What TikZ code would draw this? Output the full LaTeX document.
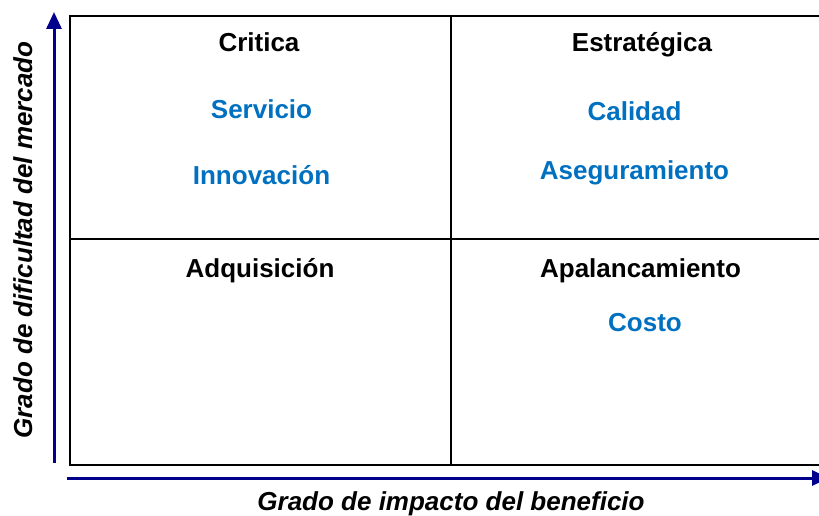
\documentclass[tikz,border=0pt]{standalone}
\usepackage{fontspec}
\setmainfont{Liberation Sans}
\usetikzlibrary{arrows.meta}
\definecolor{axisblue}{RGB}{0,0,140}
\definecolor{itemblue}{RGB}{0,112,192}
\begin{document}
\begin{tikzpicture}[x=1pt,y=-1pt,
  head/.style={font=\fontsize{26}{30}\selectfont\bfseries, text=black, anchor=base, inner sep=0pt},
  item/.style={font=\fontsize{26}{30}\selectfont\bfseries, text=itemblue, anchor=base, inner sep=0pt},
  axislabel/.style={font=\fontsize{26}{30}\selectfont\bfseries\itshape, text=black, anchor=base, inner sep=0pt},
  grid/.style={draw=black, line width=2pt},
  axis/.style={draw=axisblue, line width=3pt, -{Triangle[length=17pt,width=15pt]}}]
\useasboundingbox (0,0) rectangle (819,516);
\clip (0,0) rectangle (819,516);
% quadrant grid
\draw[grid] (70,16) rectangle (830,465);
\draw[grid] (451,16) -- (451,465);
\draw[grid] (70,239) -- (830,239);
% axes
\coordinate (ya) at (54,463);
\coordinate (yb) at (54,12);
\coordinate (xa) at (67,478);
\coordinate (xb) at (829,478);
\draw[axis] (ya) -- (yb);
\draw[axis] (xa) -- (xb);
% headings
\node[head] (critica) at (259,52) {Critica};
\node[head] (estrategica) at (642,52) {Estratégica};
\node[head] (adquisicion) at (260,277) {Adquisición};
\node[head] (apalancamiento) at (640.5,277) {Apalancamiento};
% items
\node[item] (servicio) at (261.5,119) {Servicio};
\node[item] (innovacion) at (261.5,184) {Innovación};
\node[item] (calidad) at (634.5,121) {Calidad};
\node[item] (aseguramiento) at (634.5,179) {Aseguramiento};
\node[item] (costo) at (645,331) {Costo};
% axis labels
\node[axislabel] (xlabel) at (451,510) {Grado de impacto del beneficio};
\node[axislabel, rotate=90] (ylabel) at (32,240) {Grado de dificultad del mercado};
\end{tikzpicture}
\end{document}
